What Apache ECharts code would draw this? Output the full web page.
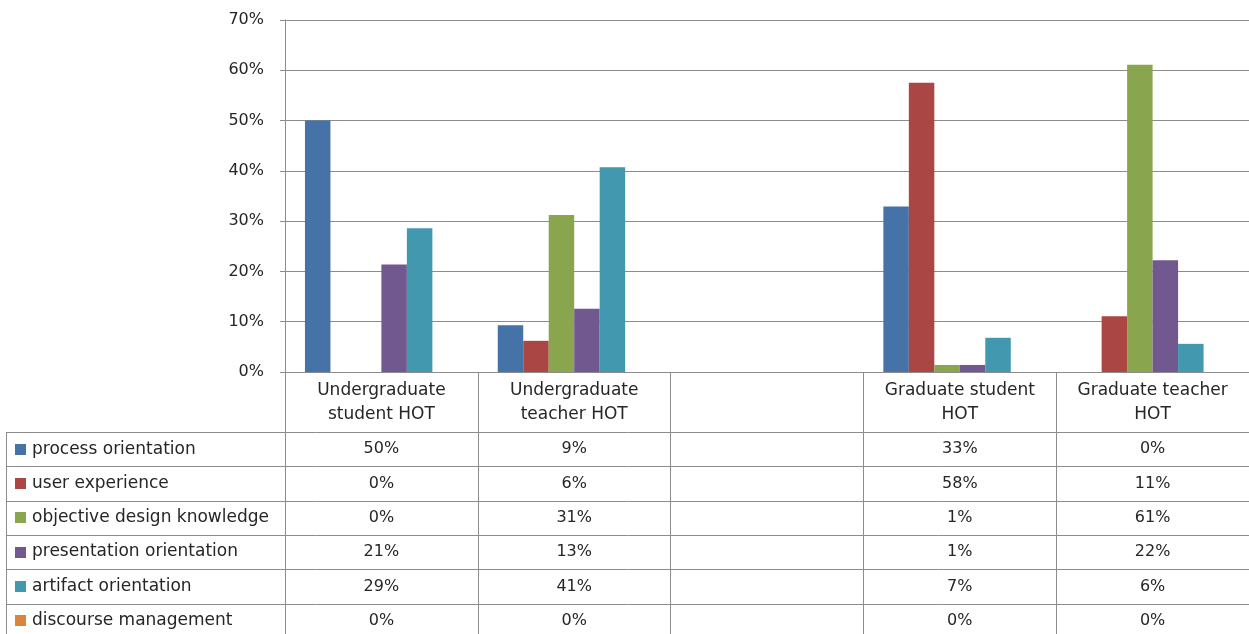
<!DOCTYPE html>
<html>
<head>
<meta charset="utf-8">
<title>HOT orientation shares</title>
<script src="https://cdn.jsdelivr.net/npm/echarts@6/dist/echarts.min.js"></script>
<style>
  html, body { margin: 0; padding: 0; background: #fff; }
  #chart { width: 1249px; height: 634px; }
</style>
</head>
<body>
<div id="chart"></div>
<script>
// Groups (the middle slot is intentionally left empty)
const categories = [
  'Undergraduate\nstudent HOT',
  'Undergraduate\nteacher HOT',
  '',
  'Graduate student\nHOT',
  'Graduate teacher\nHOT'
];

// Share of each orientation per group, in percent
const seriesNames = [
  'process orientation',
  'user experience',
  'objective design knowledge',
  'presentation orientation',
  'artifact orientation',
  'discourse management'
];
const processOrientation      = [50.0, 9.3, null, 32.9, 0.0];
const userExperience          = [0.0, 6.2, null, 57.5, 11.1];
const objectiveKnowledge      = [0.0, 31.2, null, 1.4, 61.1];
const presentationOrientation = [21.4, 12.6, null, 1.4, 22.2];
const artifactOrientation     = [28.6, 40.7, null, 6.8, 5.6];
const discourseManagement     = [0.0, 0.0, null, 0.0, 0.0];

const seriesValues = [
  processOrientation, userExperience, objectiveKnowledge,
  presentationOrientation, artifactOrientation, discourseManagement
];

const yTicks = { min: 0, max: 70, interval: 10 };

const colors = ['#4572A7', '#AA4643', '#89A54E', '#71588F', '#4198AF', '#DB843D'];

const FONT = 'DejaVu Sans';
const TEXT = '#262626';
const LINE = '#8c8c8c';

// Layout of the plot and its data table
const W = 1249, H = 634;
const PLOT_LEFT = 285, PLOT_TOP = 20, PLOT_BOTTOM = 372;
const HEADER_H = 60;
const ROW_H = 34.3;
const TABLE_LEFT = 6;
const tableTop = PLOT_BOTTOM + HEADER_H;

const chart = echarts.init(document.getElementById('chart'), null, { renderer: 'canvas' });

const option = {
  animation: false,
  color: colors,
  grid: { left: PLOT_LEFT, right: 0, top: PLOT_TOP, bottom: H - PLOT_BOTTOM, containLabel: false },
  xAxis: {
    type: 'category',
    data: categories,
    boundaryGap: true,
    axisLine: { show: true, lineStyle: { color: LINE, width: 1 } },
    axisTick: {
      show: true, interval: 0, alignWithLabel: false,
      length: H - PLOT_BOTTOM, lineStyle: { color: LINE, width: 1 }
    },
    axisLabel: {
      interval: 0, margin: 7, fontFamily: FONT, fontSize: 17,
      color: TEXT, lineHeight: 24, align: 'center'
    },
    splitLine: { show: false }
  },
  yAxis: {
    type: 'value',
    min: yTicks.min, max: yTicks.max, interval: yTicks.interval,
    axisLine: { show: true, lineStyle: { color: LINE, width: 1 } },
    axisTick: { show: true, length: 5, lineStyle: { color: LINE } },
    axisLabel: {
      formatter: '{value}%', margin: 21, fontFamily: FONT, fontSize: 16, color: TEXT
    },
    splitLine: { show: true, lineStyle: { color: LINE, width: 1 } }
  },
  series: seriesNames.map((name, i) => ({
    name,
    type: 'bar',
    data: seriesValues[i],
    barGap: '0%',
    barCategoryGap: '20.7%',
    itemStyle: { color: colors[i] }
  }))
};

chart.setOption(option);

// Data table body: horizontal rules, left border, legend keys and value cells
const graphics = [];
for (let r = 0; r <= seriesNames.length; r++) {
  const y = Math.round(tableTop + r * ROW_H) + 0.5;
  graphics.push({
    type: 'line', silent: true,
    shape: { x1: TABLE_LEFT, y1: y, x2: W, y2: y },
    style: { stroke: LINE, lineWidth: 1 }
  });
}
graphics.push({
  type: 'line', silent: true,
  shape: { x1: TABLE_LEFT + 0.5, y1: tableTop, x2: TABLE_LEFT + 0.5, y2: H },
  style: { stroke: LINE, lineWidth: 1 }
});

seriesNames.forEach((name, r) => {
  const cy = tableTop + r * ROW_H + ROW_H / 2;
  graphics.push({
    type: 'rect', silent: true,
    shape: { x: TABLE_LEFT + 9, y: Math.round(cy - 5.5), width: 11, height: 11 },
    style: { fill: colors[r] }
  });
  graphics.push({
    type: 'text', silent: true,
    style: {
      text: name, x: TABLE_LEFT + 26, y: cy,
      align: 'left', verticalAlign: 'middle',
      font: '17px "' + FONT + '"', fill: TEXT
    }
  });
});

categories.forEach((cat, c) => {
  const cx = chart.convertToPixel({ xAxisIndex: 0 }, c);
  seriesValues.forEach((vals, r) => {
    const v = vals[c];
    if (v === null || v === undefined) return;
    graphics.push({
      type: 'text', silent: true,
      style: {
        text: Math.round(v) + '%',
        x: cx, y: tableTop + r * ROW_H + ROW_H / 2,
        align: 'center', verticalAlign: 'middle',
        font: '16px "' + FONT + '"', fill: TEXT
      }
    });
  });
});

chart.setOption({ graphic: graphics });
</script>
</body>
</html>
